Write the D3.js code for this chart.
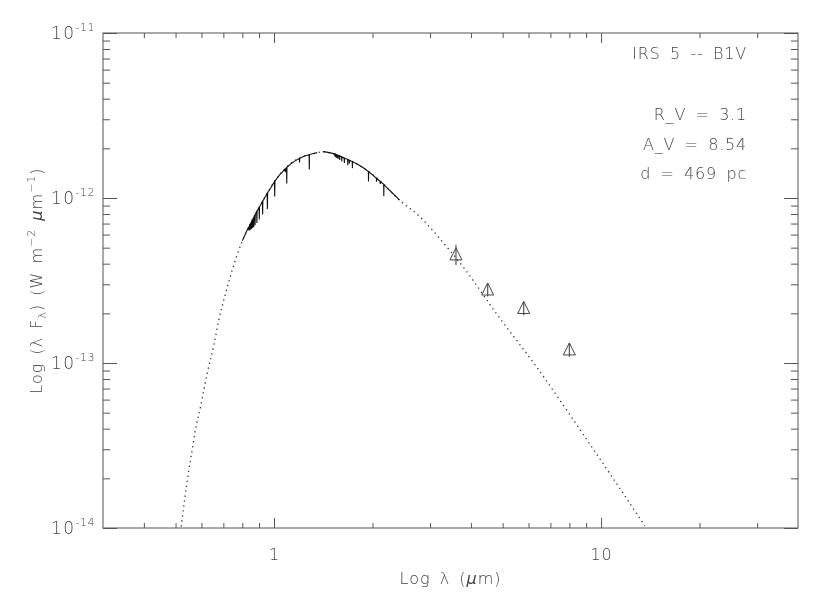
<!DOCTYPE html>
<html>
<head>
<meta charset="utf-8">
<script src="https://cdn.jsdelivr.net/npm/d3@7"></script>
<style>
  html, body { margin: 0; padding: 0; background: #fff; }
  svg { will-change: transform; }
  svg text { font-family: "DejaVu Sans", "Liberation Sans", sans-serif; font-weight: 200; fill: #444; }
</style>
</head>
<body>
<svg id="chart" width="830" height="593"></svg>
<script>
// ---------------- data ----------------
// Reddened model SED (dotted), wavelength in micron, lambda*F_lambda in W m^-2
const modelWave = [0.520, 0.549, 0.562, 0.575, 0.596, 0.610, 0.625, 0.655, 0.678, 0.711, 0.745, 0.781, 0.800, 0.828, 0.848, 0.921, 1.012, 1.112, 1.221, 1.357, 1.406, 1.546, 1.738, 1.955, 2.148, 2.415, 2.781, 2.985, 3.40, 3.78, 4.78, 6.34, 8.77, 10.88, 13.6];
const modelFlux = [1.02e-14, 2.25e-14, 2.97e-14, 3.93e-14, 5.43e-14, 6.86e-14, 8.67e-14, 1.29e-13, 1.82e-13, 2.64e-13, 3.66e-13, 4.84e-13, 5.50e-13, 6.40e-13, 7.03e-13, 9.51e-13, 1.29e-12, 1.59e-12, 1.78e-12, 1.88e-12, 1.91e-12, 1.82e-12, 1.66e-12, 1.44e-12, 1.23e-12, 9.73e-13, 7.76e-13, 6.70e-13, 4.96e-13, 3.84e-13, 2.00e-13, 9.51e-14, 3.75e-14, 2.00e-14, 1.03e-14];

// Synthetic spectrum, segment 1 (0.80 - 1.355 micron)
const specWave1 = [0.800, 0.815, 0.830, 0.8366, 0.8374, 0.8383, 0.8392, 0.8402, 0.8413, 0.8424, 0.8455, 0.8467, 0.8480, 0.8490, 0.8502, 0.8514, 0.8532, 0.8545, 0.8558, 0.8584, 0.8598, 0.8612, 0.8650, 0.8665, 0.8680, 0.8735, 0.8750, 0.8765, 0.8848, 0.8863, 0.8878, 0.9000, 0.9015, 0.9030, 0.9214, 0.9229, 0.9244, 0.9531, 0.9546, 0.9561, 0.980, 1.0034, 1.0049, 1.0064, 1.040, 1.0815, 1.0830, 1.0845, 1.0923, 1.0938, 1.0953, 1.130, 1.160, 1.1955, 1.1970, 1.1985, 1.240, 1.2803, 1.2818, 1.2833, 1.320, 1.355];
const specFlux1 = [0.550e-12, 0.596e-12, 0.646e-12, 0.668e-12, 0.638e-12, 0.670e-12, 0.635e-12, 0.677e-12, 0.635e-12, 0.684e-12, 0.697e-12, 0.643e-12, 0.700e-12, 0.706e-12, 0.646e-12, 0.711e-12, 0.720e-12, 0.652e-12, 0.726e-12, 0.738e-12, 0.661e-12, 0.744e-12, 0.760e-12, 0.665e-12, 0.767e-12, 0.790e-12, 0.684e-12, 0.797e-12, 0.827e-12, 0.706e-12, 0.833e-12, 0.878e-12, 0.741e-12, 0.884e-12, 0.952e-12, 0.794e-12, 0.958e-12, 1.069e-12, 0.857e-12, 1.075e-12, 1.161e-12, 1.255e-12, 1.023e-12, 1.263e-12, 1.380e-12, 1.497e-12, 1.432e-12, 1.503e-12, 1.528e-12, 1.225e-12, 1.534e-12, 1.622e-12, 1.679e-12, 1.736e-12, 1.641e-12, 1.740e-12, 1.799e-12, 1.831e-12, 1.489e-12, 1.833e-12, 1.862e-12, 1.884e-12];

// Synthetic spectrum, segment 2 (1.41 - 2.42 micron)
const specWave2 = [1.410, 1.450, 1.500, 1.5326, 1.5346, 1.5366, 1.5423, 1.5443, 1.5463, 1.5540, 1.5560, 1.5580, 1.5685, 1.5705, 1.5725, 1.5865, 1.5885, 1.5905, 1.6094, 1.6114, 1.6134, 1.6392, 1.6412, 1.6432, 1.6791, 1.6811, 1.6831, 1.6982, 1.7002, 1.7022, 1.7347, 1.7367, 1.7387, 1.800, 1.870, 1.9431, 1.9451, 1.9471, 2.000, 2.0561, 2.0581, 2.0601, 2.1106, 2.1126, 2.1146, 2.1641, 2.1661, 2.1681, 2.220, 2.300, 2.360, 2.420];
const specFlux2 = [1.910e-12, 1.897e-12, 1.871e-12, 1.850e-12, 1.786e-12, 1.848e-12, 1.842e-12, 1.766e-12, 1.840e-12, 1.829e-12, 1.746e-12, 1.827e-12, 1.817e-12, 1.726e-12, 1.815e-12, 1.800e-12, 1.698e-12, 1.798e-12, 1.775e-12, 1.663e-12, 1.773e-12, 1.747e-12, 1.629e-12, 1.745e-12, 1.711e-12, 1.578e-12, 1.709e-12, 1.695e-12, 1.618e-12, 1.693e-12, 1.664e-12, 1.517e-12, 1.662e-12, 1.603e-12, 1.531e-12, 1.447e-12, 1.259e-12, 1.443e-12, 1.380e-12, 1.317e-12, 1.256e-12, 1.313e-12, 1.261e-12, 1.216e-12, 1.257e-12, 1.210e-12, 1.028e-12, 1.206e-12, 1.148e-12, 1.072e-12, 1.023e-12, 0.971e-12];

// IRAC photometry (triangles with error bars)
const photWave  = [3.6, 4.5, 5.8, 8.0];
const photFlux  = [4.52e-13, 2.77e-13, 2.14e-13, 1.20e-13];
const photLow   = [3.93e-13, 2.53e-13, 1.95e-13, 1.09e-13];
const photHigh  = [5.20e-13, 3.04e-13, 2.35e-13, 1.32e-13];

// Axis ticks
const xDomain = [0.3, 40];
const yDomain = [1e-14, 1e-11];
const xMajorTicks = [1, 10];
const xMajorLabels = ["1", "10"];
const xMinorTicks = [0.4, 0.5, 0.6, 0.7, 0.8, 0.9, 2, 3, 4, 5, 6, 7, 8, 9, 20, 30];
const yMajorTicks = [1e-14, 1e-13, 1e-12, 1e-11];
const yMajorExponents = ["-14", "-13", "-12", "-11"];
const yMinorTicks = [2e-14, 3e-14, 4e-14, 5e-14, 6e-14, 7e-14, 8e-14, 9e-14,
                     2e-13, 3e-13, 4e-13, 5e-13, 6e-13, 7e-13, 8e-13, 9e-13,
                     2e-12, 3e-12, 4e-12, 5e-12, 6e-12, 7e-12, 8e-12, 9e-12];

const annotations = ["IRS 5 -- B1V", "R_V = 3.1", "A_V = 8.54", "d = 469 pc"];

// ---------------- layout ----------------
const L = 103, R = 798, T = 33, B = 528;
const axisColor = "#555";

const svg = d3.select("#chart");
const x = d3.scaleLog().domain(xDomain).range([L, R]);
const y = d3.scaleLog().domain(yDomain).range([B, T]);

// frame
svg.append("rect").attr("x", L).attr("y", T).attr("width", R - L).attr("height", B - T)
  .attr("fill", "none").attr("stroke", axisColor).attr("stroke-width", 1);

function styleAxis(g) {
  g.select(".domain").remove();
  g.selectAll(".tick line").attr("stroke", axisColor).attr("stroke-width", 1);
}

// bottom axis (inward ticks + labels)
svg.append("g").attr("transform", `translate(0,${B})`)
  .call(d3.axisBottom(x).tickValues(xMajorTicks).tickSizeInner(-10).tickSizeOuter(0).tickPadding(21)
        .tickFormat((d, i) => xMajorLabels[i]))
  .call(styleAxis)
  .call(g => g.selectAll("text").attr("font-size", 16).attr("fill", "#444")
        .attr("font-family", "DejaVu Sans").attr("font-weight", 200).attr("letter-spacing", 1));
svg.append("g").attr("transform", `translate(0,${B})`)
  .call(d3.axisBottom(x).tickValues(xMinorTicks).tickSizeInner(-5).tickSizeOuter(0).tickFormat(""))
  .call(styleAxis);
// top axis (inward)
svg.append("g").attr("transform", `translate(0,${T})`)
  .call(d3.axisBottom(x).tickValues(xMajorTicks).tickSizeInner(10).tickSizeOuter(0).tickFormat(""))
  .call(styleAxis);
svg.append("g").attr("transform", `translate(0,${T})`)
  .call(d3.axisBottom(x).tickValues(xMinorTicks).tickSizeInner(5).tickSizeOuter(0).tickFormat(""))
  .call(styleAxis);
// left axis (inward)
svg.append("g").attr("transform", `translate(${L},0)`)
  .call(d3.axisRight(y).tickValues(yMajorTicks).tickSizeInner(14).tickSizeOuter(0).tickFormat(""))
  .call(styleAxis);
svg.append("g").attr("transform", `translate(${L},0)`)
  .call(d3.axisRight(y).tickValues(yMinorTicks).tickSizeInner(7).tickSizeOuter(0).tickFormat(""))
  .call(styleAxis);
// right axis (inward)
svg.append("g").attr("transform", `translate(${R},0)`)
  .call(d3.axisLeft(y).tickValues(yMajorTicks).tickSizeInner(14).tickSizeOuter(0).tickFormat(""))
  .call(styleAxis);
svg.append("g").attr("transform", `translate(${R},0)`)
  .call(d3.axisLeft(y).tickValues(yMinorTicks).tickSizeInner(7).tickSizeOuter(0).tickFormat(""))
  .call(styleAxis);

// y tick labels 10^n
yMajorTicks.forEach((v, i) => {
  const t = svg.append("text").attr("x", L - 8).attr("y", y(v) + 6)
    .attr("text-anchor", "end").attr("font-size", 17);
  t.append("tspan").attr("letter-spacing", 1.5).text("10");
  t.append("tspan").attr("dy", -8).attr("font-size", 11).attr("letter-spacing", 0.5).text(yMajorExponents[i]);
});

// axis titles
const xt = svg.append("text").attr("x", (L + R) / 2).attr("y", 584).attr("text-anchor", "middle")
  .attr("font-size", 16).attr("letter-spacing", 1).attr("word-spacing", 3);
xt.append("tspan").text("Log \u03BB (");
xt.append("tspan").attr("font-style", "italic").text("\u03BC");
xt.append("tspan").text("m)");

const yt = svg.append("text").attr("transform", `translate(42,${(T + B) / 2}) rotate(-90)`)
  .attr("text-anchor", "middle").attr("font-size", 16).attr("letter-spacing", 1).attr("word-spacing", 2);
yt.append("tspan").text("Log (\u03BB F");
yt.append("tspan").attr("dy", 4).attr("font-size", 11).text("\u03BB");
yt.append("tspan").attr("dy", -4).text(") (W m");
yt.append("tspan").attr("dy", -7).attr("font-size", 11).text("\u22122");
yt.append("tspan").attr("dy", 7).text(" ");
yt.append("tspan").attr("font-style", "italic").text("\u03BC");
yt.append("tspan").text("m");
yt.append("tspan").attr("dy", -7).attr("font-size", 11).text("\u22121");
yt.append("tspan").attr("dy", 7).text(")");

// plot clip
const line = d3.line().x(d => x(d[0])).y(d => y(d[1])).curve(d3.curveMonotoneX);
svg.append("clipPath").attr("id", "plotclip")
  .append("rect").attr("x", L).attr("y", T).attr("width", R - L).attr("height", B - T);
const plot = svg.append("g").attr("clip-path", "url(#plotclip)");

// model dotted curve
plot.append("path").datum(d3.zip(modelWave, modelFlux)).attr("d", line)
  .attr("fill", "none").attr("stroke", "#333").attr("stroke-width", 1.3)
  .attr("stroke-dasharray", "1.3,3.7");

// spectrum
const lineLin = d3.line().x(d => x(d[0])).y(d => y(d[1]));
[[specWave1, specFlux1], [specWave2, specFlux2]].forEach(([w, f]) => {
  plot.append("path").datum(d3.zip(w, f)).attr("d", lineLin)
    .attr("fill", "none").attr("stroke", "#111").attr("stroke-width", 1.1).attr("stroke-linejoin", "miter");
});

// photometry: error bars + open triangles
photWave.forEach((w, i) => {
  const cx = x(w), cy = y(photFlux[i]);
  plot.append("line").attr("x1", cx).attr("x2", cx).attr("y1", y(photLow[i])).attr("y2", y(photHigh[i]))
    .attr("stroke", "#555").attr("stroke-width", 1.2);
  plot.append("path")
    .attr("d", `M${cx},${cy - 7} L${cx + 6},${cy + 5} L${cx - 6},${cy + 5} Z`)
    .attr("fill", "none").attr("stroke", "#444").attr("stroke-width", 1);
});

// annotations (top right)
const annY = [59, 120, 150, 179];
annotations.forEach((s, i) => {
  svg.append("text").attr("x", 747).attr("y", annY[i]).attr("text-anchor", "end")
    .attr("font-size", 16).attr("letter-spacing", 0.8).attr("word-spacing", 3.5)
    .style("white-space", "pre").text(s);
});
</script>
</body>
</html>
